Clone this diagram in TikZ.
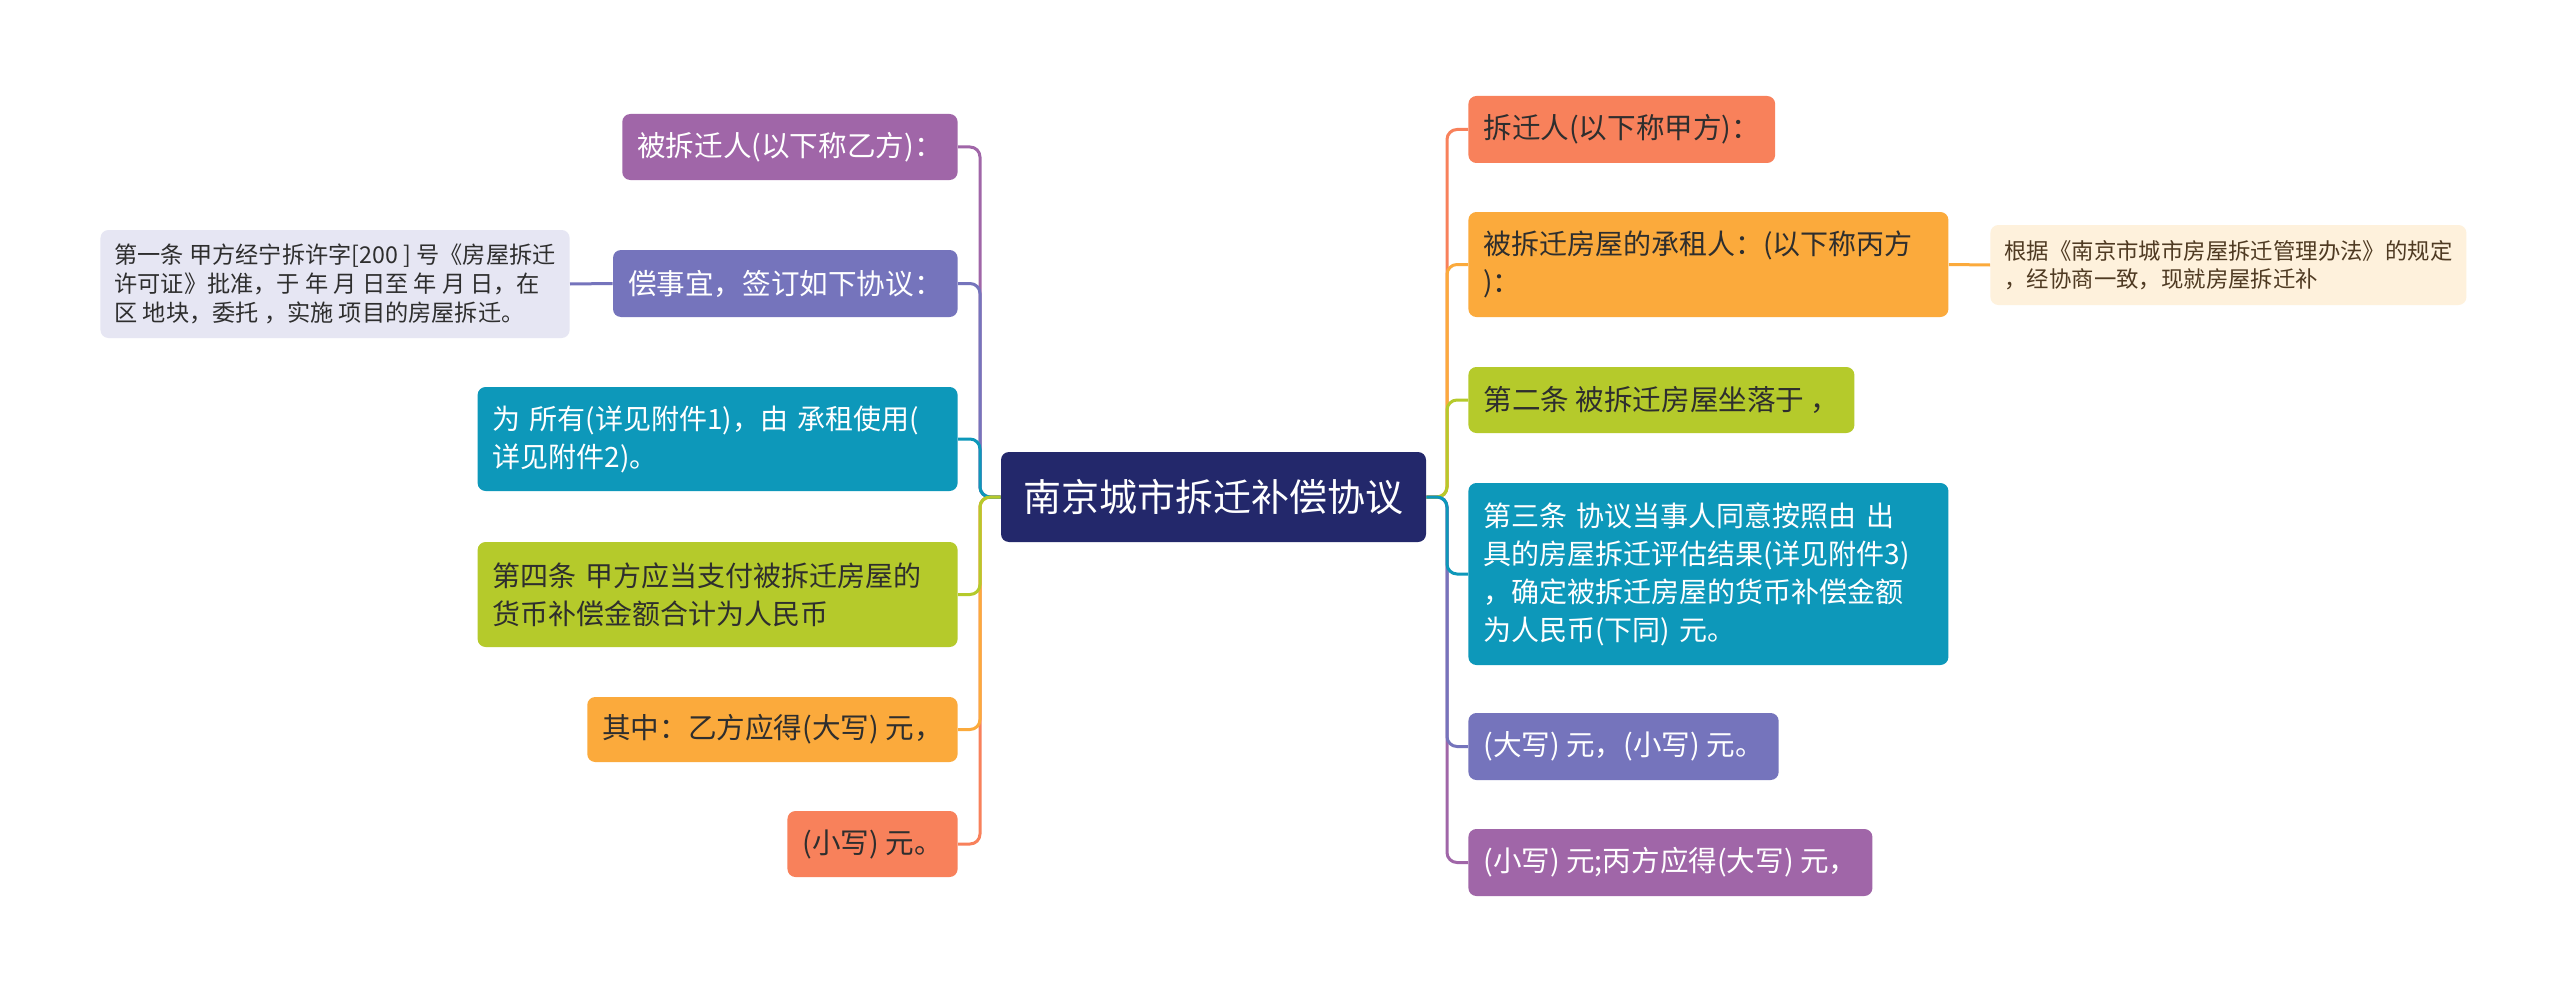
\documentclass[tikz,border=0pt]{standalone}
\usepackage{fontspec}
\setmainfont{Noto Sans CJK SC}
\definecolor{cpurple}{HTML}{A066A8}
\definecolor{cslate}{HTML}{7574BC}
\definecolor{cteal}{HTML}{0D98BA}
\definecolor{cyg}{HTML}{B5CA2B}
\definecolor{corange}{HTML}{FBAA3C}
\definecolor{ccoral}{HTML}{F8815B}
\definecolor{cnavy}{HTML}{23286B}
\definecolor{clav}{HTML}{E6E6F3}
\definecolor{ccream}{HTML}{FEF1DC}
\definecolor{cdark}{HTML}{2E2E2E}
\definecolor{cbrown}{HTML}{4F3A22}
\begin{document}
\begin{tikzpicture}[x=0.5pt,y=-0.5pt,
  box/.style={rounded corners=4pt, inner xsep=7.5pt, inner ysep=0pt, align=left,
    font=\fontsize{14.3}{19}\selectfont},
  wbox/.style={rounded corners=4pt, inner xsep=7.5pt, inner ysep=0pt, align=left,
    text width=225pt, font=\fontsize{14}{19}\selectfont},
  sub/.style={rounded corners=4pt, inner xsep=7pt, inner ysep=0pt, align=left,
    font=\fontsize{11.6}{14.5}\selectfont},
  link/.style={line width=1.5pt, rounded corners=5pt}]
\useasboundingbox (0,0) rectangle (2560,995);
\fill[white] (0,0) rectangle (2560,995);

% central
\node[rounded corners=4pt, fill=cnavy, text=white, font=\fontsize{19}{23}\selectfont,
  minimum width=212.5pt, minimum height=45pt, inner sep=0pt] (C) at (1213.5,497) {南京城市拆迁补偿协议};
\coordinate (lj) at (980,497);
\coordinate (rj) at (1447,497);

% left
\node[box, fill=cpurple, text=white, anchor=east, minimum height=33pt] (L1) at (958,147) {被拆迁人(以下称乙方)：};
\node[box, fill=cslate, text=white, anchor=east, minimum height=33.5pt] (L2) at (958,283.5) {偿事宜，签订如下协议：};
\node[sub, fill=clav, text=cdark, anchor=east, minimum height=54pt] (L2c) at (570,284) {第一条 甲方经宁拆许字[200 ] 号《房屋拆迁\\许可证》批准，于 年 月 日至 年 月 日，在\\区 地块，委托 ，实施 项目的房屋拆迁。};
\node[wbox, fill=cteal, text=white, anchor=east, minimum height=52pt] (L3) at (958,439) {\mbox{为 所有(详见附件1)，由 承租使用(}\\\mbox{详见附件2)。}};
\node[wbox, fill=cyg, text=cdark, anchor=east, minimum height=52.5pt] (L4) at (958,594.5) {\mbox{第四条 甲方应当支付被拆迁房屋的}\\\mbox{货币补偿金额合计为人民币}};
\node[box, fill=corange, text=cdark, anchor=east, minimum height=32.5pt] (L5) at (958,729.5) {其中：乙方应得(大写) 元，};
\node[box, fill=ccoral, text=cdark, anchor=east, minimum height=33pt] (L6) at (958,844) {(小写) 元。};

% right
\node[box, fill=ccoral, text=cdark, anchor=west, minimum height=33.5pt] (R1) at (1468,129.5) {拆迁人(以下称甲方)：};
\node[wbox, fill=corange, text=cdark, anchor=west, minimum height=52.5pt] (R2) at (1468,264.5) {\mbox{被拆迁房屋的承租人：(以下称丙方}\\\mbox{)：}};
\node[sub, fill=ccream, text=cbrown, anchor=west, minimum height=40pt,
  font=\fontsize{11.2}{14}\selectfont] (R2c) at (1990,265) {根据《南京市城市房屋拆迁管理办法》的规定\\，经协商一致，现就房屋拆迁补};
\node[box, fill=cyg, text=cdark, anchor=west, minimum height=33pt] (R3) at (1468,400) {第二条 被拆迁房屋坐落于 ，};
\node[wbox, fill=cteal, text=white, anchor=west, minimum height=91pt] (R4) at (1468,574) {\mbox{第三条 协议当事人同意按照由 出}\\\mbox{具的房屋拆迁评估结果(详见附件3)}\\\mbox{，确定被拆迁房屋的货币补偿金额}\\\mbox{为人民币(下同) 元。}};
\node[box, fill=cslate, text=white, anchor=west, minimum height=33.5pt] (R5) at (1468,746.5) {(大写) 元，(小写) 元。};
\node[box, fill=cpurple, text=white, anchor=west, minimum height=33.5pt] (R6) at (1468,862.5) {(小写) 元;丙方应得(大写) 元，};

% left connectors (outer first)
\draw[link, cpurple] (C.west) -- (lj) |- (L1.east);
\draw[link, ccoral] (C.west) -- (lj) |- (L6.east);
\draw[link, cslate] (C.west) -- (lj) |- (L2.east);
\draw[link, corange] (C.west) -- (lj) |- (L5.east);
\draw[link, cteal] (C.west) -- (lj) |- (L3.east);
\draw[link, cyg] (C.west) -- (lj) |- (L4.east);
\draw[link, cslate] (L2.west) -- (L2c.east);

% right connectors
\draw[link, ccoral] (C.east) -- (rj) |- (R1.west);
\draw[link, cpurple] (C.east) -- (rj) |- (R6.west);
\draw[link, corange] (C.east) -- (rj) |- (R2.west);
\draw[link, cslate] (C.east) -- (rj) |- (R5.west);
\draw[link, cyg] (C.east) -- (rj) |- (R3.west);
\draw[link, cteal] (C.east) -- (rj) |- (R4.west);
\draw[link, corange] (R2.east) -- (R2c.west);
\end{tikzpicture}
\end{document}
